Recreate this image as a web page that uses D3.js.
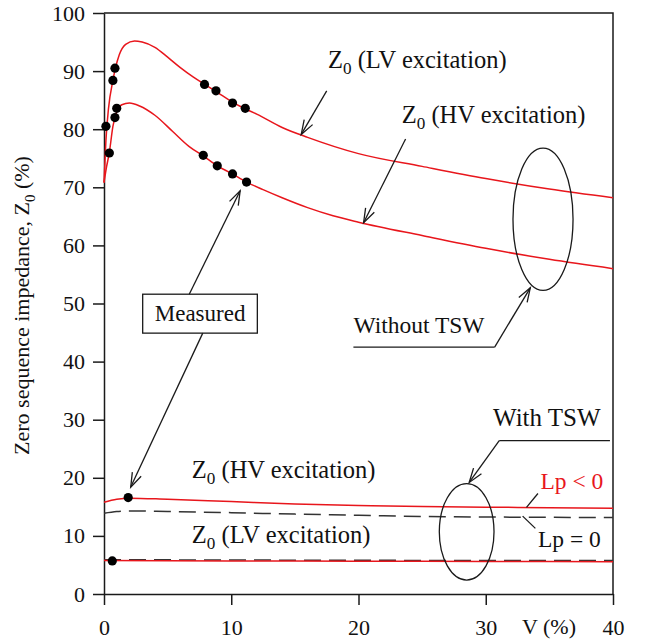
<!DOCTYPE html>
<html>
<head>
<meta charset="utf-8">
<script src="https://cdn.jsdelivr.net/npm/d3@7"></script>
<style>
  html, body { margin: 0; padding: 0; background: #fff; }
  text { font-family: "Liberation Serif", "Times New Roman", serif; }
</style>
</head>
<body>
<svg id="chart" width="653" height="640"></svg>
<script>
// ---------------- DATA ----------------
const xTicks = [0, 10, 20, 30, 40];
const yTicks = [0, 10, 20, 30, 40, 50, 60, 70, 80, 90, 100];

// Without TSW, Z0 (LV excitation)
const lvNoTswV = [0, 0.15, 0.35, 0.7, 0.9, 1.2, 1.7, 2.4, 3, 4, 5, 6, 7, 8, 9, 10, 11, 12, 14, 16, 20, 25, 30, 35, 40];
const lvNoTswZ = [70.8, 78, 83.5, 88.4, 90.5, 92.8, 94.6, 95.2, 95.0, 94.1, 92.4, 90.6, 89.0, 87.6, 86.2, 84.8, 83.6, 82.6, 80.3, 78.6, 75.8, 73.6, 71.5, 69.7, 68.2];

// Without TSW, Z0 (HV excitation)
const hvNoTswV = [0, 0.2, 0.42, 0.7, 1.0, 1.4, 2.0, 2.8, 4, 5.4, 6.7, 7.8, 8.9, 10, 11.2, 12.5, 14, 16, 18, 20, 25, 30, 35, 40];
const hvNoTswZ = [70.8, 73.5, 76, 80.5, 83, 84.2, 84.5, 84.0, 82.4, 79.6, 77.0, 75.4, 73.7, 72.4, 70.9, 69.6, 68.2, 66.5, 65.1, 64.0, 61.7, 59.5, 57.6, 56.0];

// With TSW, HV excitation
const hvTswNegV = [0, 1, 2, 5, 10, 15, 20, 25, 30, 35, 40];
const hvTswNegZ = [15.8, 16.3, 16.5, 16.3, 15.9, 15.5, 15.25, 15.05, 14.95, 14.85, 14.75];
const hvTswZeroV = [0, 1, 2, 5, 10, 15, 20, 25, 30, 35, 40];
const hvTswZeroZ = [13.9, 14.2, 14.3, 14.2, 14.0, 13.75, 13.55, 13.35, 13.25, 13.2, 13.15];

// With TSW, LV excitation
const lvTswNegV = [0, 10, 20, 30, 40];
const lvTswNegZ = [5.75, 5.7, 5.65, 5.6, 5.55];
const lvTswZeroV = [0, 10, 20, 30, 40];
const lvTswZeroZ = [5.9, 5.85, 5.8, 5.77, 5.75];

// Measured points
const measuredV = [0.7, 0.86, 7.9, 8.8, 10.1, 11.1, 0.15, 1.0, 0.86, 0.42, 7.8, 8.9, 10.1, 11.2, 1.9, 0.65];
const measuredZ = [88.4, 90.5, 87.7, 86.6, 84.5, 83.6, 80.5, 83.6, 82.0, 75.9, 75.5, 73.7, 72.3, 70.9, 16.6, 5.7];

// ---------------- LAYOUT ----------------
const W = 653, H = 640;
const m = { left: 104, top: 13, right: 40, bottom: 46 };
const svg = d3.select("#chart");
const x = d3.scaleLinear().domain([0, 40]).range([m.left, W - m.right]);
const y = d3.scaleLinear().domain([0, 100]).range([H - m.bottom, m.top]);

const RED = "#e8161c";
const INK = "#1a1a1a";

// frame (top and right borders)
svg.append("path")
  .attr("d", `M${x(0)},${y(100)}H${x(40)}V${y(0)}`)
  .attr("fill", "none").attr("stroke", INK).attr("stroke-width", 1.5);

// axes
const yAxis = svg.append("g").attr("transform", `translate(${x(0)},0)`)
  .call(d3.axisLeft(y).tickValues(yTicks).tickSize(11).tickSizeOuter(0).tickPadding(8));
const xAxis = svg.append("g").attr("transform", `translate(0,${y(0)})`)
  .call(d3.axisBottom(x).tickValues(xTicks).tickSize(11).tickSizeOuter(0).tickPadding(14));
[xAxis, yAxis].forEach(g => {
  g.selectAll("path, line").attr("stroke", INK).attr("stroke-width", 1.5);
  g.selectAll("text").attr("fill", "#111").style("font-size", "22px")
    .style("font-family", '"Liberation Serif", serif');
});

// axis titles
const ylab = svg.append("text")
  .attr("transform", `translate(29,${(y(0) + y(100)) / 2 + 2}) rotate(-90)`)
  .attr("text-anchor", "middle").style("font-size", "22px").attr("fill", "#111");
ylab.append("tspan").text("Zero sequence impedance, Z");
ylab.append("tspan").text("0").style("font-size", "15px").attr("dy", 6);
ylab.append("tspan").text(" (%)").attr("dy", -6);

svg.append("text").attr("x", 549).attr("y", 634).attr("text-anchor", "middle")
  .style("font-size", "22px").attr("fill", "#111").text("V (%)");

// ---------------- CURVES ----------------
const line = d3.line().x(d => x(d[0])).y(d => y(d[1])).curve(d3.curveMonotoneX);
const zip = (a, b) => a.map((v, i) => [v, b[i]]);

const curves = [
  { v: lvNoTswV, z: lvNoTswZ, color: RED, dash: null },
  { v: hvNoTswV, z: hvNoTswZ, color: RED, dash: null },
  { v: hvTswZeroV, z: hvTswZeroZ, color: "#333", dash: "17,8" },
  { v: lvTswZeroV, z: lvTswZeroZ, color: "#333", dash: "17,8" },
  { v: hvTswNegV, z: hvTswNegZ, color: RED, dash: null },
  { v: lvTswNegV, z: lvTswNegZ, color: RED, dash: null },
];
curves.forEach(c => {
  svg.append("path").datum(zip(c.v, c.z)).attr("d", line)
    .attr("fill", "none").attr("stroke", c.color).attr("stroke-width", 1.5)
    .attr("stroke-dasharray", c.dash);
});

// measured dots
svg.append("g").selectAll("circle").data(zip(measuredV, measuredZ)).join("circle")
  .attr("cx", d => x(d[0])).attr("cy", d => y(d[1])).attr("r", 4.6).attr("fill", "#000");

// ---------------- ANNOTATIONS ----------------
const ann = svg.append("g").attr("fill", "none").attr("stroke", INK).attr("stroke-width", 1.3);

function arrow(v1, z1, v2, z2) {
  const x1 = x(v1), y1 = y(z1), x2 = x(v2), y2 = y(z2);
  ann.append("line").attr("x1", x1).attr("y1", y1).attr("x2", x2).attr("y2", y2);
  const a = Math.atan2(y1 - y2, x1 - x2), L = 15, h = 0.33;
  ann.append("path").attr("d",
    `M${x2 + L * Math.cos(a + h)},${y2 + L * Math.sin(a + h)}L${x2},${y2}L${x2 + L * Math.cos(a - h)},${y2 + L * Math.sin(a - h)}`);
}
function polyline(pts) {
  ann.append("path").attr("d", d3.line().x(d => x(d[0])).y(d => y(d[1]))(pts));
}
function ellipse(v, z, rv, rz) {
  ann.append("ellipse").attr("cx", x(v)).attr("cy", y(z))
    .attr("rx", x(v + rv) - x(v)).attr("ry", y(z) - y(z + rz));
}
function zLabel(v, z, rest, color, size) {
  const t = svg.append("text").attr("x", x(v)).attr("y", y(z))
    .style("font-size", size + "px").attr("fill", color || "#111");
  t.append("tspan").text("Z");
  t.append("tspan").text("0").style("font-size", (size * 0.7) + "px").attr("dy", 6);
  t.append("tspan").text(rest).attr("dy", -6);
  return t;
}
function label(v, z, s, color, anchor, size) {
  return svg.append("text").attr("x", x(v)).attr("y", y(z)).attr("text-anchor", anchor || "start")
    .style("font-size", (size || 23) + "px").attr("fill", color || "#111").text(s);
}

// upper labels
zLabel(17.6, 90.5, " (LV excitation)", null, 24.5);
arrow(17.5, 86.6, 15.5, 79.1);
zLabel(23.4, 81.0, " (HV excitation)", null, 24.5);
arrow(23.7, 78.3, 20.4, 63.9);

// Without TSW
ellipse(34.5, 64.5, 2.36, 12.25);
label(19.6, 45.0, "Without TSW", null, "start", 23.5);
polyline([[19.6, 42.5], [30.7, 42.5]]);
arrow(30.7, 42.5, 33.5, 52.7);

// Measured
ann.append("rect").attr("x", x(3.04)).attr("y", y(51.6))
  .attr("width", x(12.05) - x(3.04)).attr("height", y(44.9) - y(51.6)).attr("fill", "#fff");
label(7.55, 47.0, "Measured", null, "middle");
arrow(6.7, 51.6, 10.7, 69.4);
arrow(7.76, 44.9, 2.1, 18.4);

// lower labels
zLabel(6.9, 20.0, " (HV excitation)", null, 24.5);
zLabel(6.9, 8.8, " (LV excitation)", null, 24.5);

// With TSW
ellipse(28.5, 10.7, 2.15, 8.3);
label(34.8, 28.9, "With TSW", null, "middle", 25);
polyline([[39.76, 26.4], [31.06, 26.4]]);
arrow(31.06, 26.4, 28.7, 19.2);

label(34.3, 18.1, "Lp < 0", RED, "start", 23.5);
ann.append("line").attr("x1", x(34.1)).attr("y1", y(17.3)).attr("x2", x(33.2)).attr("y2", y(14.9));
label(34.1, 8.1, "Lp = 0", null, "start", 23.5);
ann.append("line").attr("x1", x(32.9)).attr("y1", y(13.4)).attr("x2", x(33.9)).attr("y2", y(11.3));
</script>
</body>
</html>
